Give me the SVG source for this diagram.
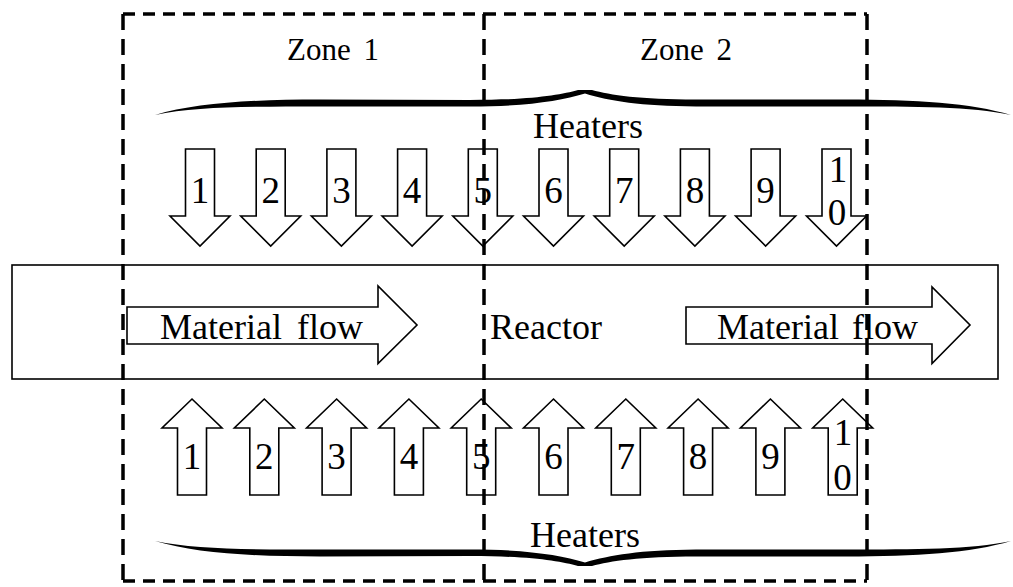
<svg xmlns="http://www.w3.org/2000/svg" xmlns:xlink="http://www.w3.org/1999/xlink" width="1013" height="587" viewBox="0 0 1013 587">
<style>
  text { font-family: "Liberation Serif", "Times New Roman", serif; fill: #000; }
  .lbl { font-size: 36px; }
  .num { font-size: 37px; text-anchor: middle; }
  .zone { font-size: 31px; text-anchor: middle; word-spacing: 5px; }
  .blk { fill: #fff; stroke: #000; stroke-width: 1.6; stroke-linejoin: miter; }
  .dh { fill: none; stroke: #000; stroke-width: 3.5; stroke-dasharray: 12 8; }
  .dv { fill: none; stroke: #000; stroke-width: 3.5; stroke-dasharray: 16 9; }
  .brace { fill: #000; stroke: none; }
</style>
<defs>
  <path id="down" d="M-14.5,0 H14.5 V67 H30 L0,97 L-30,67 H-14.5 Z"/>
  <path id="up" d="M0,0 L30,29 H14.5 V96 H-14.5 V29 H-30 Z"/>
  <path id="brace" d="M155,115 C195,103 250,99.5 320,99.5 L470,100 C530,100 560,95 578,90 L592,90 C610,95 640,99.5 696,99.5 L846,99.5 C916,99.5 971,103 1011,115 C971,106.5 916,106.5 846,106.5 L696,106.5 C640,106 610,101 585,93.5 C560,101 526,106.5 470,106.5 L320,106.5 C250,106.5 195,106.5 155,115 Z"/>
</defs>

<g id="reactor">
  <rect x="12" y="265" width="986" height="114" fill="#fff" stroke="#000" stroke-width="1.6"/>
  <text class="lbl" x="490" y="339">Reactor</text>
</g>

<g id="flow-left">
  <path class="blk" d="M127,307 H378 V286 L417,325 L378,363.5 V344 H127 Z"/>
  <text class="lbl" x="261.5" y="339" text-anchor="middle" word-spacing="6">Material flow</text>
</g>
<g id="flow-right">
  <path class="blk" d="M686,307 H932 V287 L970,325 L932,363.5 V344 H686 Z"/>
  <text class="lbl" x="817.5" y="339" text-anchor="middle" word-spacing="4">Material flow</text>
</g>

<g id="heaters-top">
  <use href="#brace" class="brace"/>
  <text class="lbl" x="588" y="138" text-anchor="middle">Heaters</text>
</g>
<g id="heaters-bottom">
  <use href="#brace" class="brace" transform="translate(0,656) scale(1,-1)"/>
  <text class="lbl" x="585" y="547" text-anchor="middle">Heaters</text>
</g>

<g id="top-heaters">
  <g id="t1"><use href="#down" class="blk" transform="translate(200,149)"/><text class="num" x="200" y="203">1</text></g>
  <g id="t2"><use href="#down" class="blk" transform="translate(270.7,149)"/><text class="num" x="270.7" y="203">2</text></g>
  <g id="t3"><use href="#down" class="blk" transform="translate(341.4,149)"/><text class="num" x="341.4" y="203">3</text></g>
  <g id="t4"><use href="#down" class="blk" transform="translate(412.1,149)"/><text class="num" x="412.1" y="203">4</text></g>
  <g id="t5"><use href="#down" class="blk" transform="translate(482.8,149)"/><text class="num" x="482.8" y="203">5</text></g>
  <g id="t6"><use href="#down" class="blk" transform="translate(553.5,149)"/><text class="num" x="553.5" y="203">6</text></g>
  <g id="t7"><use href="#down" class="blk" transform="translate(624.2,149)"/><text class="num" x="624.2" y="203">7</text></g>
  <g id="t8"><use href="#down" class="blk" transform="translate(694.9,149)"/><text class="num" x="694.9" y="203">8</text></g>
  <g id="t9"><use href="#down" class="blk" transform="translate(765.6,149)"/><text class="num" x="765.6" y="203">9</text></g>
  <g id="t10"><use href="#down" class="blk" transform="translate(836.5,149)"/><text class="num" x="838" y="182">1</text><text class="num" x="837" y="225">0</text></g>
</g>

<g id="bottom-heaters">
  <g id="b1"><use href="#up" class="blk" transform="translate(192,399)"/><text class="num" x="192" y="469">1</text></g>
  <g id="b2"><use href="#up" class="blk" transform="translate(264.3,399)"/><text class="num" x="264.3" y="469">2</text></g>
  <g id="b3"><use href="#up" class="blk" transform="translate(336.6,399)"/><text class="num" x="336.6" y="469">3</text></g>
  <g id="b4"><use href="#up" class="blk" transform="translate(408.9,399)"/><text class="num" x="408.9" y="469">4</text></g>
  <g id="b5"><use href="#up" class="blk" transform="translate(481.2,399)"/><text class="num" x="481.2" y="469">5</text></g>
  <g id="b6"><use href="#up" class="blk" transform="translate(553.5,399)"/><text class="num" x="553.5" y="469">6</text></g>
  <g id="b7"><use href="#up" class="blk" transform="translate(625.8,399)"/><text class="num" x="625.8" y="469">7</text></g>
  <g id="b8"><use href="#up" class="blk" transform="translate(698.1,399)"/><text class="num" x="698.1" y="469">8</text></g>
  <g id="b9"><use href="#up" class="blk" transform="translate(770.4,399)"/><text class="num" x="770.4" y="469">9</text></g>
  <g id="b10"><use href="#up" class="blk" transform="translate(842.7,399)"/><text class="num" x="843" y="445">1</text><text class="num" x="842.5" y="490">0</text></g>
</g>

<g id="zone1">
  <path class="dh" d="M123,14 H484 M123,581 H484"/>
  <path class="dv" d="M123,14 V581"/>
  <text class="zone" x="333" y="60">Zone 1</text>
</g>
<g id="zone2">
  <path class="dh" d="M484,14 H867 M484,581 H867"/>
  <path class="dv" d="M484,14 V581 M867,14 V581"/>
  <text class="zone" x="686" y="60">Zone 2</text>
</g>

<g id="connectors"></g>
</svg>
